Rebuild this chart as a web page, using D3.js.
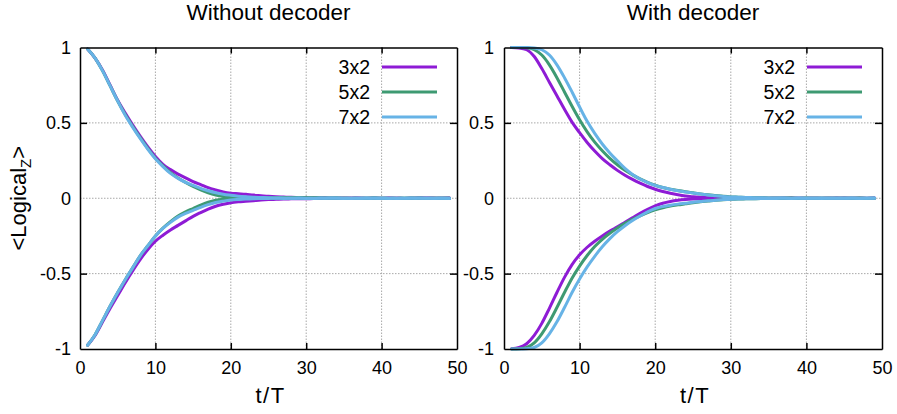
<!DOCTYPE html>
<html>
<head>
<meta charset="utf-8">
<script src="https://cdn.jsdelivr.net/npm/d3@7"></script>
<style>
  body { margin: 0; background: #fff; }
  text { font-family: "Liberation Sans", Arial, sans-serif; fill: #000; }
</style>
</head>
<body>
<div id="chart"></div>
<script>
// ---- DATA ----
const steps = [1, 2, 3, 4, 5, 6, 7, 8, 9, 10, 11, 12, 13, 14, 15, 16, 17, 18, 19, 20,
  21, 22, 23, 24, 25, 26, 27, 28, 29, 30, 31, 32, 33, 34, 35, 36, 37, 38, 39, 40,
  41, 42, 43, 44, 45, 46, 47, 48, 49];

const seriesNames = ["3x2", "5x2", "7x2"];
const xTicks = [0, 10, 20, 30, 40, 50];
const yTicks = [-1, -0.5, 0, 0.5, 1];
const yTickLabels = ["-1", "-0.5", "0", "0.5", "1"];
const panelTitles = ["Without decoder", "With decoder"];

// without decoder, started in +1
const noDecUp3 = [0.99, 0.93, 0.85, 0.75, 0.65, 0.565, 0.485, 0.41, 0.34, 0.277,
  0.225, 0.19, 0.16, 0.135, 0.11, 0.09, 0.07, 0.055, 0.042, 0.034,
  0.03, 0.026, 0.021, 0.017, 0.013, 0.01, 0.008, 0.006, 0.005, 0.004,
  0.003, 0.003, 0.002, 0.002, 0.001, 0.002, 0.001, 0.0, 0.001, 0.0,
  0.001, 0.0, -0.001, 0.0, 0.001, 0.002, 0.001, 0.0, 0.001];
const noDecUp5 = [0.99, 0.93, 0.845, 0.745, 0.645, 0.555, 0.475, 0.4, 0.33, 0.265,
  0.215, 0.17, 0.135, 0.105, 0.078, 0.055, 0.036, 0.021, 0.011, 0.005,
  0.001, -0.001, 0.0, 0.001, 0.002, 0.002, 0.003, 0.004, 0.004, 0.004,
  0.003, 0.002, 0.002, 0.001, 0.0, 0.0, -0.001, 0.0, 0.001, 0.0,
  -0.001, 0.0, 0.0, 0.001, 0.0, -0.001, 0.0, 0.001, 0.0];
const noDecUp7 = [0.99, 0.93, 0.845, 0.745, 0.645, 0.55, 0.47, 0.395, 0.325, 0.262,
  0.21, 0.165, 0.132, 0.106, 0.085, 0.065, 0.05, 0.037, 0.027, 0.02,
  0.014, 0.01, 0.007, 0.005, 0.003, 0.002, 0.001, 0.0, 0.001, 0.0,
  -0.001, 0.0, 0.001, 0.001, 0.0, -0.001, 0.0, 0.0, 0.001, 0.0,
  0.0, -0.001, 0.0, 0.001, 0.0, 0.0, -0.001, 0.0, 0.0];
// without decoder, started in -1
const noDecDown3 = [-0.975, -0.91, -0.82, -0.73, -0.645, -0.56, -0.48, -0.405, -0.34, -0.285,
  -0.245, -0.21, -0.18, -0.15, -0.12, -0.095, -0.072, -0.053, -0.04, -0.03,
  -0.024, -0.02, -0.016, -0.012, -0.009, -0.007, -0.005, -0.004, -0.003, -0.003,
  -0.002, -0.002, -0.001, -0.002, -0.001, -0.001, 0.0, -0.001, 0.0, -0.001,
  0.0, 0.0, -0.001, 0.0, 0.001, 0.0, -0.001, 0.0, 0.0];
const noDecDown5 = [-0.975, -0.905, -0.81, -0.715, -0.625, -0.54, -0.46, -0.38, -0.315, -0.25,
  -0.198, -0.155, -0.118, -0.09, -0.068, -0.045, -0.026, -0.013, -0.006, -0.002,
  0.0, 0.001, 0.002, 0.002, 0.003, 0.003, 0.004, 0.003, 0.003, 0.002,
  0.002, 0.001, 0.0, 0.001, 0.0, -0.001, 0.0, 0.0, 0.001, 0.0,
  0.0, -0.001, 0.0, 0.0, 0.001, 0.0, 0.0, -0.001, 0.0];
const noDecDown7 = [-0.975, -0.905, -0.81, -0.715, -0.625, -0.54, -0.46, -0.38, -0.315, -0.25,
  -0.2, -0.16, -0.125, -0.1, -0.08, -0.06, -0.042, -0.028, -0.019, -0.012,
  -0.008, -0.005, -0.003, -0.002, -0.001, 0.0, -0.001, 0.0, 0.0, -0.001,
  0.0, 0.001, 0.0, 0.0, -0.001, 0.0, 0.0, 0.001, 0.0, 0.0,
  -0.001, 0.0, 0.0, 0.0, 0.001, 0.0, 0.0, 0.0, -0.001];

// with decoder, started in +1
const decUp3 = [1.0, 0.997, 0.985, 0.94, 0.86, 0.77, 0.68, 0.59, 0.505, 0.435,
  0.37, 0.313, 0.263, 0.222, 0.185, 0.153, 0.125, 0.1, 0.078, 0.06,
  0.045, 0.033, 0.023, 0.015, 0.01, 0.006, 0.003, 0.002, 0.001, 0.001,
  0.0, 0.001, 0.0, 0.0, -0.001, 0.0, 0.0, 0.001, 0.0, 0.0,
  0.0, -0.001, 0.0, 0.0, 0.001, 0.0, 0.0, 0.0, 0.001];
const decUp5 = [1.0, 1.0, 0.998, 0.985, 0.95, 0.885, 0.8, 0.705, 0.61, 0.52,
  0.44, 0.372, 0.315, 0.265, 0.222, 0.185, 0.155, 0.128, 0.105, 0.086,
  0.071, 0.06, 0.051, 0.043, 0.036, 0.029, 0.023, 0.018, 0.013, 0.009,
  0.007, 0.005, 0.004, 0.003, 0.002, 0.002, 0.001, 0.001, 0.0, 0.001,
  0.0, 0.0, 0.001, 0.0, 0.0, 0.0, 0.001, 0.0, 0.0];
const decUp7 = [1.0, 1.0, 1.0, 0.997, 0.985, 0.95, 0.885, 0.8, 0.705, 0.605,
  0.51, 0.43, 0.36, 0.3, 0.248, 0.198, 0.158, 0.128, 0.104, 0.085,
  0.071, 0.06, 0.05, 0.042, 0.035, 0.028, 0.022, 0.017, 0.012, 0.009,
  0.007, 0.005, 0.004, 0.003, 0.002, 0.001, 0.001, 0.0, 0.001, 0.0,
  0.0, 0.001, 0.0, 0.0, 0.0, 0.001, 0.0, 0.0, 0.001];
// with decoder, started in -1
const decDown3 = [-0.998, -0.99, -0.965, -0.91, -0.83, -0.73, -0.625, -0.525, -0.44, -0.375,
  -0.325, -0.285, -0.25, -0.218, -0.19, -0.16, -0.13, -0.1, -0.073, -0.05,
  -0.033, -0.021, -0.013, -0.008, -0.005, -0.003, -0.002, -0.001, 0.0, -0.001,
  0.0, 0.0, -0.001, 0.0, 0.0, 0.0, 0.001, 0.0, 0.0, -0.001,
  0.0, 0.0, 0.0, 0.001, 0.0, 0.0, 0.0, -0.001, 0.0];
const decDown5 = [-1.0, -0.998, -0.99, -0.96, -0.9, -0.82, -0.725, -0.625, -0.53, -0.45,
  -0.38, -0.32, -0.272, -0.232, -0.197, -0.167, -0.14, -0.117, -0.095, -0.077,
  -0.063, -0.052, -0.044, -0.037, -0.03, -0.024, -0.019, -0.014, -0.01, -0.007,
  -0.005, -0.004, -0.003, -0.002, -0.002, -0.001, -0.001, 0.0, -0.001, 0.0,
  0.0, 0.0, -0.001, 0.0, 0.0, 0.0, 0.0, -0.001, 0.0];
const decDown7 = [-1.0, -1.0, -0.998, -0.99, -0.96, -0.9, -0.82, -0.725, -0.625, -0.535,
  -0.455, -0.385, -0.322, -0.268, -0.222, -0.182, -0.148, -0.118, -0.09, -0.068,
  -0.055, -0.046, -0.039, -0.033, -0.027, -0.022, -0.017, -0.013, -0.009, -0.006,
  -0.005, -0.004, -0.003, -0.002, -0.001, -0.001, 0.0, -0.001, 0.0, 0.0,
  0.0, -0.001, 0.0, 0.0, 0.0, 0.0, -0.001, 0.0, 0.0];

// ---- LAYOUT ----
const W = 897, H = 414;
const colors = ["#8e1bd5", "#3e9a72", "#67b3e6"];
const yTop = 47.5, yBottom = 349;

const panels = [
  { title: panelTitles[0], x0: 80, x1: 457, labelPad: 9,
    curves: [[noDecUp3, noDecDown3], [noDecUp5, noDecDown5], [noDecUp7, noDecDown7]] },
  { title: panelTitles[1], x0: 504, x1: 882, labelPad: 10,
    curves: [[decUp3, decDown3], [decUp5, decDown5], [decUp7, decDown7]] }
];

const svg = d3.select("#chart")
  .append("svg")
  .attr("width", W)
  .attr("height", H);

const y = d3.scaleLinear().domain([-1, 1]).range([yBottom, yTop]);

panels.forEach((p, pi) => {
  const x = d3.scaleLinear().domain([0, 50]).range([p.x0, p.x1]);
  const g = svg.append("g");

  // grid (dotted)
  g.append("g").selectAll("line")
    .data(xTicks.slice(1, -1))
    .join("line")
    .attr("x1", d => x(d)).attr("x2", d => x(d))
    .attr("y1", yTop).attr("y2", yBottom)
    .attr("stroke", "#a8a8a8").attr("stroke-width", 1)
    .attr("stroke-dasharray", "1.5,1.5");
  g.append("g").selectAll("line")
    .data(yTicks.slice(1, -1))
    .join("line")
    .attr("x1", p.x0).attr("x2", p.x1)
    .attr("y1", d => y(d)).attr("y2", d => y(d))
    .attr("stroke", "#a8a8a8").attr("stroke-width", 1)
    .attr("stroke-dasharray", "1.5,1.5");

  // curves
  const line = d3.line()
    .x((d, i) => x(steps[i]))
    .y(d => y(d))
    .curve(d3.curveMonotoneX);

  p.curves.forEach((pair, si) => {
    pair.forEach(vals => {
      g.append("path")
        .datum(vals)
        .attr("fill", "none")
        .attr("stroke", colors[si])
        .attr("stroke-width", 3)
        .attr("stroke-linejoin", "round")
        .attr("stroke-linecap", "round")
        .attr("d", line);
    });
  });

  // axes, ticks pointing inwards on all four sides
  const fmt = d => yTickLabels[yTicks.indexOf(d)];
  const styleAxis = sel => {
    sel.selectAll("path, line").attr("stroke", "#000").attr("stroke-width", 1.5);
    sel.selectAll("text").style("font-size", "18px")
      .style("font-family", "'Liberation Sans', Arial, sans-serif").attr("fill", "#000");
  };

  g.append("g")
    .attr("transform", `translate(0,${yBottom})`)
    .call(d3.axisBottom(x).tickValues(xTicks).tickSizeInner(-6).tickSizeOuter(0).tickPadding(12.5))
    .call(styleAxis);
  g.append("g")
    .attr("transform", `translate(0,${yTop})`)
    .call(d3.axisTop(x).tickValues(xTicks).tickSizeInner(-6).tickSizeOuter(0).tickFormat(""))
    .call(styleAxis);
  g.append("g")
    .attr("transform", `translate(${p.x0},0)`)
    .call(d3.axisLeft(y).tickValues(yTicks).tickFormat(fmt).tickSizeInner(-7).tickSizeOuter(0).tickPadding(p.labelPad))
    .call(styleAxis);
  g.append("g")
    .attr("transform", `translate(${p.x1},0)`)
    .call(d3.axisRight(y).tickValues(yTicks).tickSizeInner(-7).tickSizeOuter(0).tickFormat(""))
    .call(styleAxis);

  // hide the end ticks that sit on the frame corners
  g.selectAll(".tick").filter(d => d === 0 || d === 50 || d === 1 || d === -1)
    .select("line").attr("opacity", 0);

  // title and x label
  g.append("text")
    .attr("x", (p.x0 + p.x1) / 2)
    .attr("y", 20)
    .attr("text-anchor", "middle")
    .style("font-size", "22.5px")
    .text(p.title);
  g.append("text")
    .attr("x", (p.x0 + p.x1) / 2 + 2)
    .attr("y", 403)
    .attr("text-anchor", "middle")
    .style("font-size", "22px")
    .style("letter-spacing", "1.5px")
    .text("t/T");

  // legend
  seriesNames.forEach((name, si) => {
    const ly = 67 + si * 25;
    g.append("text")
      .attr("x", p.x1 - 87)
      .attr("y", ly + 7)
      .attr("text-anchor", "end")
      .style("font-size", "19.5px")
      .text(name);
    g.append("line")
      .attr("x1", p.x1 - 75).attr("x2", p.x1 - 20)
      .attr("y1", ly).attr("y2", ly)
      .attr("stroke", colors[si])
      .attr("stroke-width", 3);
  });
});

// y label
const yl = svg.append("text")
  .attr("transform", `translate(26,${(yTop + yBottom) / 2}) rotate(-90)`)
  .attr("text-anchor", "middle")
  .style("font-size", "22px");
yl.append("tspan").text("<Logical");
yl.append("tspan").attr("dy", 5).style("font-size", "15px").text("Z");
yl.append("tspan").attr("dy", -5).text(">");
</script>
</body>
</html>
